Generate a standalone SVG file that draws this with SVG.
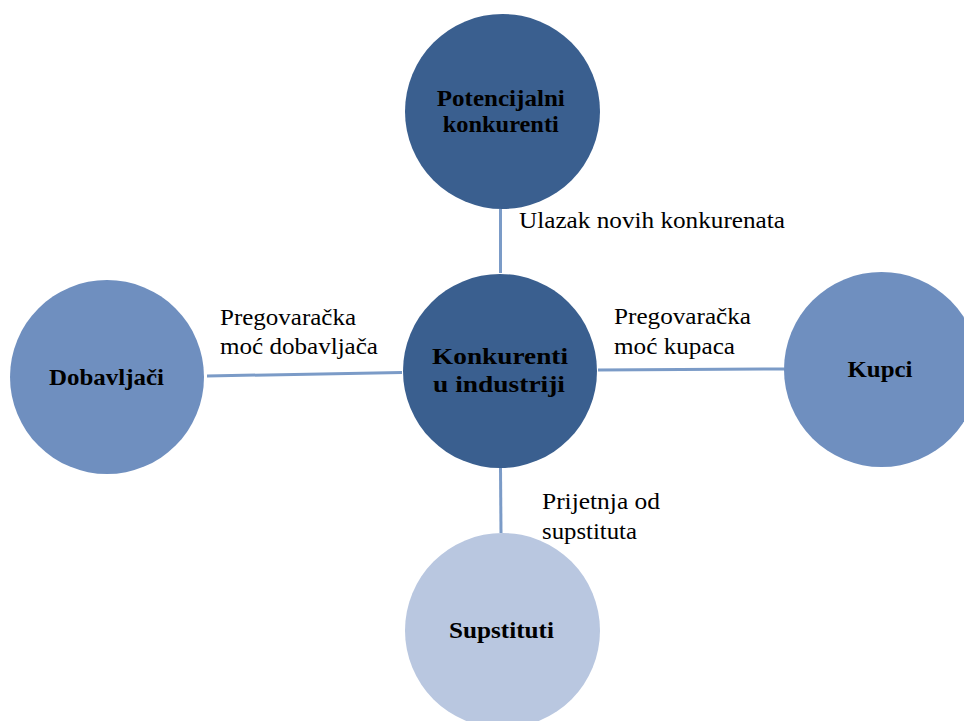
<svg xmlns="http://www.w3.org/2000/svg" width="964" height="721" viewBox="0 0 964 721">
  <style>
    .dark { fill: #3a5f8f; }
    .mid { fill: #6f8fbf; }
    .light { fill: #b9c7e0; }
    text { font-family: 'Liberation Serif', 'Times New Roman', Tinos, 'DejaVu Serif', serif; fill: #000000; }
    .lbl { font-size: 23px; font-weight: bold; text-anchor: middle; }
    .edge { font-size: 24px; }
    .conn { stroke: #7b9bc7; stroke-width: 3; fill: none; }
  </style>
  <rect width="964" height="721" fill="#ffffff"/>
  <g id="connectors">
    <line class="conn" x1="500.5" y1="209" x2="500.5" y2="273"/>
    <line class="conn" x1="207" y1="376" x2="402" y2="372.5"/>
    <line class="conn" x1="598" y1="370" x2="784" y2="369"/>
    <line class="conn" x1="500.5" y1="468" x2="501" y2="533"/>
    <text class="edge" x="519" y="228" textLength="266" lengthAdjust="spacingAndGlyphs">Ulazak novih konkurenata</text>
    <text class="edge" x="220" y="325" textLength="136" lengthAdjust="spacingAndGlyphs">Pregovaračka</text>
    <text class="edge" x="220" y="354" textLength="158" lengthAdjust="spacingAndGlyphs">moć dobavljača</text>
    <text class="edge" x="614" y="324" textLength="137" lengthAdjust="spacingAndGlyphs">Pregovaračka</text>
    <text class="edge" x="614" y="354" textLength="121" lengthAdjust="spacingAndGlyphs">moć kupaca</text>
    <text class="edge" x="542" y="509" textLength="118" lengthAdjust="spacingAndGlyphs">Prijetnja od</text>
    <text class="edge" x="542" y="539" textLength="95" lengthAdjust="spacingAndGlyphs">supstituta</text>
  </g>
  <g id="potencijalni">
    <circle class="dark" cx="502.5" cy="111.5" r="97.5"/>
    <text class="lbl" x="500.8" y="106" textLength="128" lengthAdjust="spacingAndGlyphs">Potencijalni</text>
    <text class="lbl" x="500.8" y="132" textLength="116" lengthAdjust="spacingAndGlyphs">konkurenti</text>
  </g>
  <g id="konkurenti">
    <circle class="dark" cx="500" cy="371" r="97"/>
    <text class="lbl" x="500" y="364" textLength="136" lengthAdjust="spacingAndGlyphs">Konkurenti</text>
    <text class="lbl" x="499" y="392" textLength="132" lengthAdjust="spacingAndGlyphs">u industriji</text>
  </g>
  <g id="dobavljaci">
    <circle class="mid" cx="107" cy="377" r="97"/>
    <text class="lbl" x="106.5" y="385" textLength="115" lengthAdjust="spacingAndGlyphs">Dobavljači</text>
  </g>
  <g id="kupci">
    <circle class="mid" cx="881.5" cy="369.5" r="97.5"/>
    <text class="lbl" x="880" y="377" textLength="65" lengthAdjust="spacingAndGlyphs">Kupci</text>
  </g>
  <g id="supstituti">
    <circle class="light" cx="502.5" cy="630.5" r="97.5"/>
    <text class="lbl" x="501.5" y="638" textLength="105" lengthAdjust="spacingAndGlyphs">Supstituti</text>
  </g>
</svg>
